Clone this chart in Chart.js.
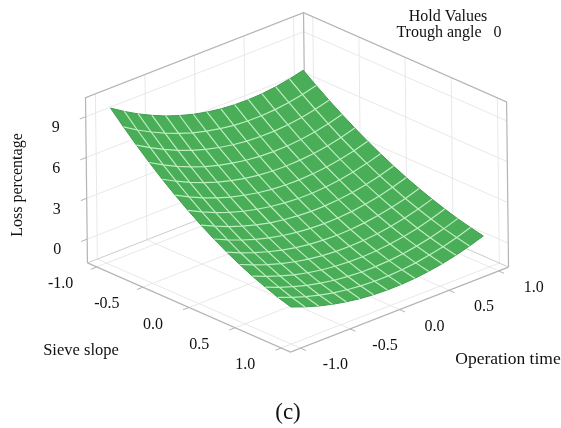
<!DOCTYPE html>
<html>
<head>
<meta charset="utf-8">
<title>Loss percentage surface</title>
<style>
  html, body { margin: 0; padding: 0; background: #fff; }
  canvas { display: block; }
</style>
<script src="https://cdn.jsdelivr.net/npm/chart.js@4"></script>
</head>
<body>
<canvas id="myChart" width="561" height="428"></canvas>
<script>
// Data

const sieveTicks = [-1, -0.5, 0, 0.5, 1]
const sieveLabels = ['-1.0', '-0.5', '0.0', '0.5', '1.0']
const timeTicks = [-1, -0.5, 0, 0.5, 1]
const timeLabels = ['-1.0', '-0.5', '0.0', '0.5', '1.0']
const lossTicks = [0, 3, 6, 9]
const lossLabels = ['0', '3', '6', '9']

// mesh lines of the surface
const sieveGrid = [-0.97, -0.831, -0.693, -0.554, -0.416, -0.277, -0.139, 0, 0.139, 0.277, 0.416, 0.554, 0.693, 0.831, 0.97]
const timeGrid = [-0.97, -0.831, -0.693, -0.554, -0.416, -0.277, -0.139, 0, 0.139, 0.277, 0.416, 0.554, 0.693, 0.831, 0.97]

// one row per sieve slope, one column per operation time
const lossValues = [
    [9.65, 9.01, 8.44, 7.94, 7.50, 7.14, 6.84, 6.61, 6.45, 6.36, 6.34, 6.38, 6.50, 6.68, 6.93],
    [8.68, 8.06, 7.52, 7.04, 6.63, 6.28, 6.01, 5.80, 5.65, 5.58, 5.57, 5.63, 5.76, 5.96, 6.22],
    [7.76, 7.17, 6.65, 6.19, 5.80, 5.48, 5.22, 5.03, 4.90, 4.85, 4.85, 4.93, 5.07, 5.28, 5.55],
    [6.89, 6.32, 5.82, 5.39, 5.02, 4.71, 4.48, 4.30, 4.19, 4.15, 4.17, 4.26, 4.42, 4.63, 4.92],
    [6.07, 5.53, 5.05, 4.64, 4.29, 4.00, 3.78, 3.62, 3.53, 3.50, 3.54, 3.64, 3.80, 4.03, 4.33],
    [5.31, 4.79, 4.33, 3.94, 3.60, 3.34, 3.13, 2.99, 2.91, 2.90, 2.95, 3.06, 3.23, 3.47, 3.77],
    [4.60, 4.10, 3.66, 3.28, 2.97, 2.72, 2.53, 2.40, 2.33, 2.33, 2.39, 2.52, 2.70, 2.95, 3.26],
    [3.94, 3.46, 3.04, 2.68, 2.38, 2.14, 1.97, 1.86, 1.80, 1.81, 1.88, 2.01, 2.21, 2.46, 2.78],
    [3.33, 2.87, 2.47, 2.12, 1.84, 1.62, 1.46, 1.36, 1.31, 1.33, 1.41, 1.56, 1.76, 2.02, 2.34],
    [2.78, 2.33, 1.95, 1.62, 1.35, 1.14, 0.99, 0.90, 0.87, 0.90, 0.99, 1.14, 1.35, 1.61, 1.94],
    [2.28, 1.85, 1.48, 1.16, 0.91, 0.71, 0.57, 0.49, 0.47, 0.51, 0.61, 0.76, 0.98, 1.25, 1.58],
    [1.83, 1.42, 1.06, 0.75, 0.51, 0.32, 0.20, 0.13, 0.11, 0.16, 0.26, 0.43, 0.64, 0.92, 1.26],
    [1.44, 1.03, 0.69, 0.39, 0.16, -0.02, -0.13, -0.20, -0.20, -0.15, -0.04, 0.13, 0.35, 0.63, 0.97],
    [1.09, 0.70, 0.36, 0.08, -0.14, -0.31, -0.42, -0.47, -0.47, -0.41, -0.30, -0.12, 0.10, 0.39, 0.73],
    [0.80, 0.42, 0.09, -0.18, -0.39, -0.55, -0.65, -0.70, -0.69, -0.63, -0.51, -0.34, -0.11, 0.18, 0.52]
]

// Box limits of the 3D axes
const boxMin = -1.1
const boxMax = 1.1
const lossMin = -1.75
const lossMax = 10.4

// Projection of (sieve, time, loss) onto the flat x/y scales
function project(s, t, z) {
    const h = z - lossMin
    return {
        x: 298 + s * 92.3 + t * 99.1 - h * 0.16,
        y: 265 + s * 40.5 - t * 38.6 - h * 13.6
    }
}

const datasets = []

function addLine(points, color, width) {
    datasets.push({
        data: points,
        showLine: true,
        borderColor: color,
        borderWidth: width,
        pointRadius: 0,
        tension: 0,
        fill: false
    })
}

// Walls and floor
const lightGrid = '#e8e8e8'
const boxLine = '#b4b4b4'

timeTicks.forEach(t => {
    addLine([project(boxMin, t, lossMin), project(boxMin, t, lossMax)], lightGrid, 1)
    addLine([project(boxMin, t, lossMin), project(boxMax, t, lossMin)], lightGrid, 1)
})
sieveTicks.forEach(s => {
    addLine([project(s, boxMax, lossMin), project(s, boxMax, lossMax)], lightGrid, 1)
    addLine([project(s, boxMin, lossMin), project(s, boxMax, lossMin)], lightGrid, 1)
})
lossTicks.forEach(z => {
    addLine([project(boxMin, boxMin, z), project(boxMin, boxMax, z), project(boxMax, boxMax, z)], lightGrid, 1)
})

addLine([
    project(boxMin, boxMin, lossMin),
    project(boxMin, boxMin, lossMax),
    project(boxMin, boxMax, lossMax),
    project(boxMax, boxMax, lossMax),
    project(boxMax, boxMax, lossMin)
], boxLine, 1.2)
addLine([project(boxMin, boxMax, lossMin), project(boxMin, boxMax, lossMax)], boxLine, 1.2)
addLine([
    project(boxMin, boxMin, lossMin),
    project(boxMax, boxMin, lossMin),
    project(boxMax, boxMax, lossMin)
], boxLine, 1.2)
addLine([
    project(boxMin, boxMin, lossMin),
    project(boxMin, boxMax, lossMin),
    project(boxMax, boxMax, lossMin)
], '#cccccc', 1)

// Tick marks
const tickSize = 0.06
sieveTicks.forEach(s => {
    addLine([project(s, boxMin, lossMin), project(s, boxMin - tickSize, lossMin)], boxLine, 1)
})
timeTicks.forEach(t => {
    addLine([project(boxMax, t, lossMin), project(boxMax + tickSize, t, lossMin)], boxLine, 1)
})
lossTicks.forEach(z => {
    addLine([project(boxMin, boxMin, z), project(boxMin, boxMin - tickSize, z)], boxLine, 1)
})

// Surface: outline filled, then the mesh on top
const last = sieveGrid.length - 1
const outline = []
timeGrid.forEach((t, j) => outline.push(project(sieveGrid[0], t, lossValues[0][j])))
sieveGrid.forEach((s, i) => outline.push(project(s, timeGrid[last], lossValues[i][last])))
timeGrid.slice().reverse().forEach((t, j) => outline.push(project(sieveGrid[last], t, lossValues[last][last - j])))
sieveGrid.slice().reverse().forEach((s, i) => outline.push(project(s, timeGrid[0], lossValues[last - i][0])))

datasets.push({
    data: outline,
    showLine: true,
    borderColor: '#3f9e4e',
    borderWidth: 1,
    backgroundColor: '#4aad58',
    pointRadius: 0,
    tension: 0,
    fill: 'shape'
})

const meshColor = '#bdeec0'
sieveGrid.forEach((s, i) => {
    if (i > 0 && i < last) addLine(timeGrid.map((t, j) => project(s, t, lossValues[i][j])), meshColor, 1.2)
})
timeGrid.forEach((t, j) => {
    if (j > 0 && j < last) addLine(sieveGrid.map((s, i) => project(s, t, lossValues[i][j])), meshColor, 1.2)
})

// Chart.js paints the first dataset last, so keep the order explicit
datasets.forEach((d, i) => { d.order = datasets.length - i })

// Text of the 3D axes
const serif = '"Liberation Serif", "Times New Roman", serif'

const axisText = {
    id: 'axisText',
    afterDatasetsDraw(chart) {
        const { ctx, scales } = chart
        const put = (text, x, y, size, rotation) => {
            ctx.save()
            ctx.translate(scales.x.getPixelForValue(x), scales.y.getPixelForValue(y))
            if (rotation) ctx.rotate(rotation)
            ctx.font = size + 'px ' + serif
            ctx.fillStyle = '#111111'
            ctx.textAlign = 'center'
            ctx.textBaseline = 'middle'
            ctx.fillText(text, 0, 0)
            ctx.restore()
        }

        sieveTicks.forEach((s, i) => {
            const p = project(s, boxMin, lossMin)
            put(sieveLabels[i], p.x - 36, p.y + 17, 16)
        })
        timeTicks.forEach((t, i) => {
            const p = project(boxMax, t, lossMin)
            put(timeLabels[i], p.x + 35, p.y + 17, 16)
        })
        lossTicks.forEach((z, i) => {
            const p = project(boxMin, boxMin, z)
            put(lossLabels[i], p.x - 30, p.y + 11, 16)
        })

        put('Loss percentage', 18, 185, 16, -Math.PI / 2)
        put('Sieve slope', 81, 351, 16.5)
        put('Operation time', 508, 359, 17.5)
        put('Hold Values', 448, 17, 16)
        put('Trough angle   0', 449, 33, 16)
        put('(c)', 288, 413, 23)
    }
}

const ctx = document.getElementById('myChart').getContext('2d')

const myChart = new Chart(ctx, {
    type: 'scatter',
    data: { datasets: datasets },
    options: {
        responsive: false,
        animation: false,
        layout: { padding: 0 },
        scales: {
            x: { type: 'linear', min: 0, max: 561, display: false },
            y: { type: 'linear', min: 0, max: 428, reverse: true, display: false }
        },
        plugins: {
            legend: { display: false },
            tooltip: { enabled: false }
        }
    },
    plugins: [axisText]
})
</script>
</body>
</html>
